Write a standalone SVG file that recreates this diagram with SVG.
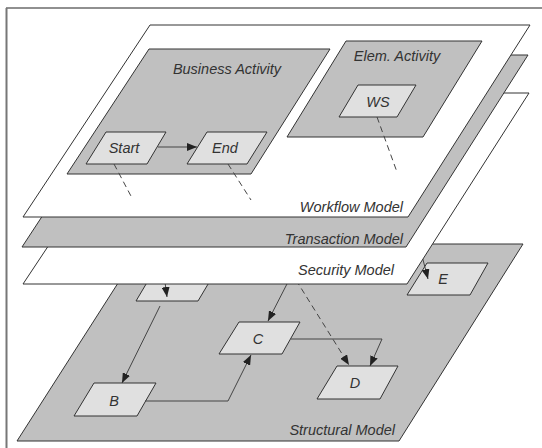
<svg xmlns="http://www.w3.org/2000/svg" width="542" height="448" viewBox="0 0 542 448">
<defs>
<style>
.plane-w{fill:#ffffff;stroke:#333;stroke-width:1}
.plane-g{fill:#c0c0c0;stroke:#333;stroke-width:1}
.node{fill:#e0e0e0;stroke:#333;stroke-width:1}
.lbl{font-family:"Liberation Sans",Arial,sans-serif;font-style:italic;font-size:14.5px;fill:#333}
.mid{text-anchor:middle}
.end{text-anchor:end}
.conn{fill:none;stroke:#444;stroke-width:1}
.dash{stroke-dasharray:6,4}
</style>
<marker id="arr" viewBox="0 0 10 8" refX="10" refY="4" markerWidth="10" markerHeight="8" markerUnits="userSpaceOnUse" orient="auto">
<path d="M0,0 L10,4 L0,8 z" fill="#222"/>
</marker>
</defs>
<rect x="0" y="0" width="542" height="448" fill="#ffffff"/>
<g id="frame">
<line x1="6" y1="8" x2="542" y2="8" stroke="#222" stroke-width="1.2"/>
<line x1="6.5" y1="8" x2="6.5" y2="448" stroke="#777" stroke-width="2"/>
</g>

<g id="structural-model">
<polygon class="plane-g" points="143,244 523,244 399,441 17,441"/>
<text class="lbl end" x="395" y="435">Structural Model</text>
</g>
<g id="node-A"><polygon class="node" points="155,269 217,269 198,301 136,301"/></g>
<g id="node-B"><polygon class="node" points="94,383 156,383 137,416 74,416"/><text class="lbl mid" x="114" y="406">B</text></g>
<g id="node-C"><polygon class="node" points="239,322 300,322 282,354 219,354"/><text class="lbl mid" x="258" y="344">C</text></g>
<g id="node-D"><polygon class="node" points="337,366 398,366 380,399 317,399"/><text class="lbl mid" x="355" y="388">D</text></g>
<g id="node-E"><polygon class="node" points="427,263 488,263 470,295 407,295"/><text class="lbl mid" x="443" y="284">E</text></g>

<g id="connectors-structural">
<path class="conn" d="M164,275 L167,297" marker-end="url(#arr)"/>
<path class="conn" d="M289,280 L268,321" marker-end="url(#arr)"/>
<path class="conn dash" d="M296,280 L349,365" marker-end="url(#arr)"/>
<path class="conn" d="M421,252 L428,279" marker-end="url(#arr)"/>
<path class="conn" d="M160,306 L122,383" marker-end="url(#arr)"/>
<path class="conn" d="M145,401 L228,401 L251,355" marker-end="url(#arr)"/>
<path class="conn" d="M291,339 L382,339 L370,366" marker-end="url(#arr)"/>
</g>

<g id="security-model">
<polygon class="plane-w" points="150,93 529,93 407,284 23,284"/>
<text class="lbl end" x="394" y="275">Security Model</text>
</g>
<g id="transaction-model">
<polygon class="plane-g" points="148,55 528,55 406,247 22,247"/>
<text class="lbl end" x="403" y="244">Transaction Model</text>
</g>
<g id="workflow-model">
<polygon class="plane-w" points="150,25 530,25 408,217 23,217"/>
<text class="lbl end" x="403" y="212">Workflow Model</text>
</g>
<g id="business-activity">
<polygon class="plane-g" points="149,49 330,49 251,174 67,174"/>
<text class="lbl mid" x="227" y="74">Business Activity</text>
</g>
<g id="elem-activity">
<polygon class="plane-g" points="346,41 482,41 423,137 287,137"/>
<text class="lbl mid" x="397" y="61">Elem. Activity</text>
</g>
<g id="node-WS"><polygon class="node" points="358,85 416,85 397,117 339,117"/><text class="lbl mid" x="378" y="107">WS</text></g>
<g id="node-Start"><polygon class="node" points="106,132 166,132 147,164 86,164"/><text class="lbl mid" x="124" y="153">Start</text></g>
<g id="node-End"><polygon class="node" points="207,132 267,132 247,164 187,164"/><text class="lbl mid" x="225" y="153">End</text></g>

<g id="connectors-workflow">
<path class="conn" d="M158,147 L197,147" marker-end="url(#arr)"/>
<path class="conn dash" d="M114,164 L132,198"/>
<path class="conn dash" d="M228,164 L251,200"/>
<path class="conn dash" d="M377,117 L397,172"/>
</g>
</svg>
